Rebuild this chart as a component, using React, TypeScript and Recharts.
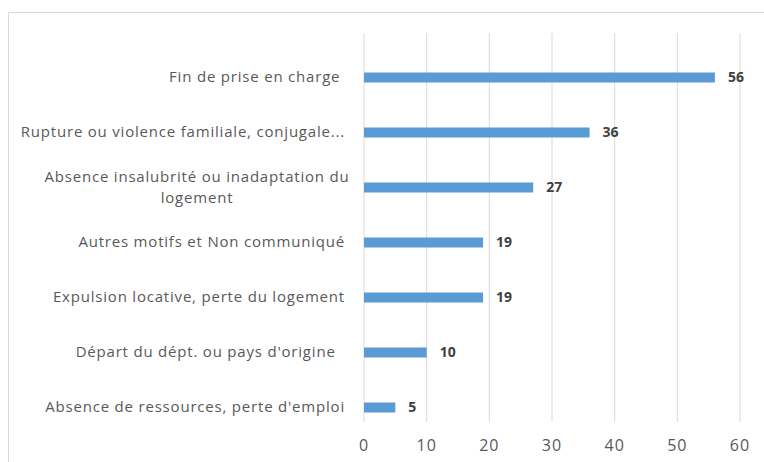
import React from 'react';
import { BarChart, Bar, XAxis, YAxis, CartesianGrid, LabelList } from 'recharts';

const categories = [
  'Fin de prise en charge ',
  'Rupture ou violence familiale, conjugale...',
  'Absence insalubrité ou inadaptation du\nlogement',
  'Autres motifs et Non communiqué',
  'Expulsion locative, perte du logement',
  "Départ du dépt. ou pays d'origine  ",
  "Absence de ressources, perte d'emploi",
];
const values = [56, 36, 27, 19, 19, 10, 5];
const xTicks = [0, 10, 20, 30, 40, 50, 60];

const data = categories.map((name, i) => ({ name, value: values[i] }));

const FONT = '"Open Sans", "Noto Sans", sans-serif';

const CategoryTick = (props: any) => {
  const { x, y, payload } = props;
  const lines = String(payload.value).split('\n');
  const common = { fill: '#595959', fontSize: 15, fontFamily: FONT, letterSpacing: 0.8 } as any;
  if (lines.length === 1) {
    return (
      <text x={x} y={y} dy="0.35em" textAnchor="end" {...common} style={{ whiteSpace: 'pre' }}>
        {lines[0]}
      </text>
    );
  }
  const lh = 21;
  const start = -((lines.length - 1) * lh) / 2;
  return (
    <text x={x - 148} y={y} textAnchor="middle" {...common}>
      {lines.map((l, i) => (
        <tspan key={i} x={x - 148} y={y + start + i * lh} dy="0.35em">
          {l}
        </tspan>
      ))}
    </text>
  );
};

export default function App() {
  return (
    <div style={{ position: 'absolute', left: 0, top: 0, width: 764, height: 462, overflow: 'hidden', background: '#fff' }}>
      <div style={{ position: 'absolute', left: 8, top: 12, width: 820, height: 520, border: '1px solid #d9d9d9' }} />
      <div style={{ position: 'absolute', left: 0, top: 0 }}>
        <BarChart
          width={764}
          height={462}
          data={data}
          layout="vertical"
          margin={{ top: 33, right: 24, bottom: 10, left: 0 }}
        >
          <CartesianGrid horizontal={false} stroke="#d9d9d9" />
          <XAxis
            type="number"
            domain={[0, 60]}
            ticks={xTicks}
            axisLine={false}
            tickLine={false}
            tickSize={0}
            tickMargin={18}
            height={30}
            tick={{ fill: '#595959', fontSize: 16, fontFamily: FONT, letterSpacing: 1 }}
            interval={0}
          />
          <YAxis
            type="category"
            dataKey="name"
            width={364}
            axisLine={false}
            tickLine={false}
            tickSize={0}
            tickMargin={19}
            interval={0}
            padding={{ top: 16.5, bottom: -12.5 }}
            tick={<CategoryTick />}
          />
          <Bar dataKey="value" fill="#5B9BD5" barSize={10} isAnimationActive={false}>
            <LabelList
              dataKey="value"
              position="right"
              offset={13}
              fill="#404040"
              fontSize={14}
              fontWeight="bold"
              fontFamily={FONT}
            />
          </Bar>
        </BarChart>
      </div>
    </div>
  );
}
